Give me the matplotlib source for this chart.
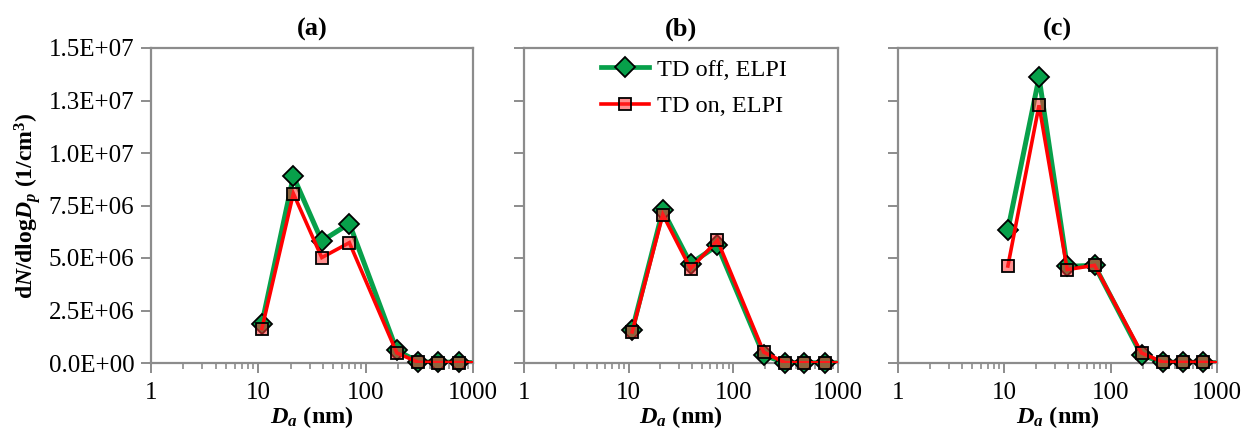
import matplotlib
matplotlib.use('Agg')
import matplotlib.pyplot as plt
from matplotlib.lines import Line2D
from matplotlib.ticker import LogLocator, NullFormatter, FixedLocator
import numpy as np

plt.rcParams['font.family'] = ['Liberation Serif', 'DejaVu Serif']
plt.rcParams['mathtext.fontset'] = 'custom'
plt.rcParams['mathtext.rm'] = 'Liberation Serif'
plt.rcParams['mathtext.it'] = 'Liberation Serif:italic'
plt.rcParams['mathtext.bf'] = 'Liberation Serif:bold'
plt.rcParams['mathtext.bfit'] = 'Liberation Serif:bold:italic'

# ELPI stage diameters (nm); last stage falls beyond the axis and is clipped
diam = [10.8, 21.2, 39.0, 70.5, 195, 310, 475, 746, 1200]

td_off_a = [1.88e6, 8.89e6, 5.81e6, 6.64e6, 0.60e6, 0.05e6, 0.04e6, 0.04e6, 0.0]
td_on_a = [1.64e6, 8.07e6, 5.02e6, 5.73e6, 0.48e6, 0.03e6, 0.02e6, 0.02e6, 0.0]

td_off_b = [1.56e6, 7.27e6, 4.73e6, 5.60e6, 0.37e6, 0.02e6, 0.01e6, 0.01e6, 0.0]
td_on_b = [1.48e6, 7.07e6, 4.49e6, 5.84e6, 0.52e6, 0.02e6, 0.01e6, 0.01e6, 0.0]

td_off_c = [6.35e6, 13.6e6, 4.60e6, 4.65e6, 0.37e6, 0.04e6, 0.03e6, 0.03e6, 0.0]
td_on_c = [4.62e6, 12.27e6, 4.45e6, 4.65e6, 0.48e6, 0.04e6, 0.03e6, 0.03e6, 0.0]

panels = ['(a)', '(b)', '(c)']
yticks = [0, 2.5e6, 5.0e6, 7.5e6, 1.0e7, 1.25e7, 1.5e7]
ytick_labels = ['0.0E+00', '2.5E+06', '5.0E+06', '7.5E+06', '1.0E+07', '1.3E+07', '1.5E+07']

green = '#07A04A'
red = '#FF0000'
sq_face = (1.0, 0.2, 0.2, 0.55)
spine_col = '#8C8C8C'

fig = plt.figure(figsize=(12.42, 4.32), dpi=100)
rects = [
    [151 / 1242, 69 / 432, 322 / 1242, 315 / 432],
    [524 / 1242, 69 / 432, 314 / 1242, 315 / 432],
    [898 / 1242, 69 / 432, 319 / 1242, 315 / 432],
]
series = [(td_off_a, td_on_a), (td_off_b, td_on_b), (td_off_c, td_on_c)]

x = np.array(diam)
inside = x <= 1000

for i, (rect, (off, on)) in enumerate(zip(rects, series)):
    ax = fig.add_axes(rect)
    off = np.array(off)
    on = np.array(on)

    # TD off: thick green line with diamonds
    ax.plot(x, off, color=green, lw=3.6, zorder=2, solid_joinstyle='miter')
    ax.plot(x[inside], off[inside], ls='none', marker='D', ms=10,
            mfc=green, mec='black', mew=1.3, zorder=3, clip_on=False)
    # TD on: red line with translucent squares
    ax.plot(x, on, color=red, lw=2.6, zorder=4, solid_joinstyle='miter')
    ax.plot(x[inside], on[inside], ls='none', marker='s', ms=9,
            mfc=sq_face, mec='black', mew=1.3, zorder=5, clip_on=False)

    ax.set_xscale('log')
    ax.set_xlim(1, 1000)
    ax.set_ylim(0, 1.5e7)
    ax.xaxis.set_major_locator(FixedLocator([1, 10, 100, 1000]))
    ax.xaxis.set_minor_locator(LogLocator(base=10, subs=np.arange(2, 10)))
    ax.xaxis.set_minor_formatter(NullFormatter())
    ax.set_xticklabels(['1', '10', '100', '1000'])
    ax.set_yticks(yticks)
    if i == 0:
        ax.set_yticklabels(ytick_labels)
        ax.set_ylabel(r'd$\mathbfit{N}$/dlog$\mathbfit{D}_{\mathbfit{p}}$ (1/cm$^{\mathbf{3}}$)',
                      fontsize=17, fontweight='bold', labelpad=4)
    else:
        ax.set_yticklabels([])

    for sp in ax.spines.values():
        sp.set_color(spine_col)
        sp.set_linewidth(1.6)
    ax.tick_params(axis='both', which='major', direction='out', color=spine_col,
                   width=1.4, length=7, labelsize=18, pad=5)
    ax.tick_params(axis='x', which='major', pad=7)
    ax.tick_params(axis='x', which='minor', direction='out', color=spine_col,
                   width=1.2, length=4)
    ax.set_xlabel(r'$\mathbfit{D}_{\mathbfit{a}}$ (nm)', fontsize=17.5,
                  fontweight='bold', labelpad=0)
    ax.set_title(panels[i], fontsize=19, fontweight='bold', pad=9)

    if i == 1:
        handles = [
            Line2D([], [], color=green, lw=3.4, marker='D', ms=10,
                   mfc=green, mec='black', mew=1.3),
            Line2D([], [], color=red, lw=2.6, marker='s', ms=9,
                   mfc=sq_face, mec='black', mew=1.3),
        ]
        ax.legend(handles, ['TD off, ELPI', 'TD on, ELPI'], loc='upper center',
                  frameon=False, fontsize=17.5, handlelength=2.0,
                  handletextpad=0.3, labelspacing=0.6,
                  bbox_to_anchor=(0.54, 1.035))

fig.savefig('out.png', dpi=100)
